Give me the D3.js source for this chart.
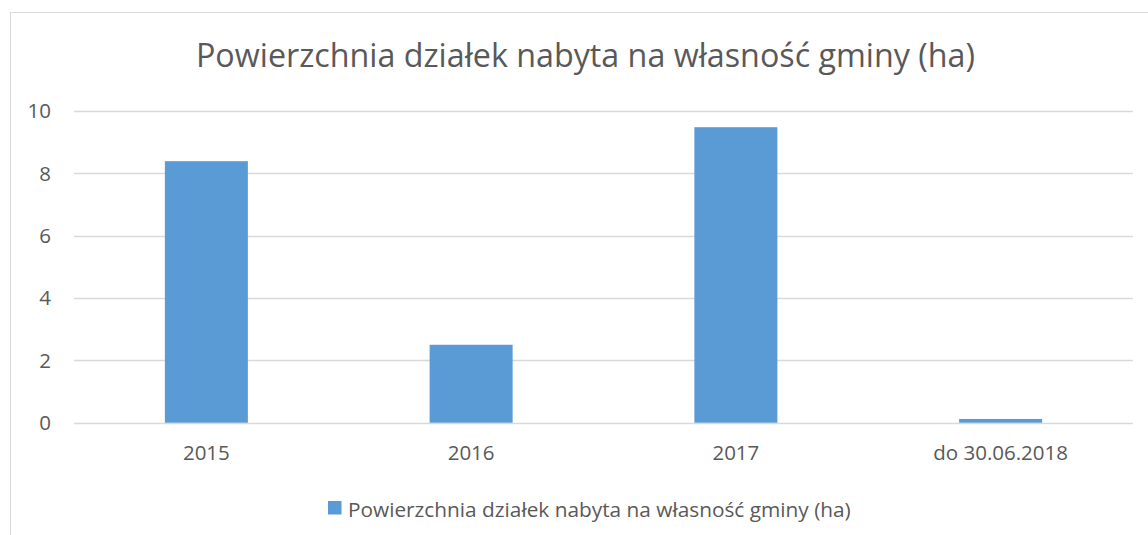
<!DOCTYPE html>
<html>
<head>
<meta charset="utf-8">
<script src="https://cdn.jsdelivr.net/npm/d3@7"></script>
<style>
  html, body { margin: 0; padding: 0; background: #ffffff; }
  svg { display: block; }
  text { font-family: "Open Sans", "Noto Sans", sans-serif; fill: #595959; }
</style>
</head>
<body>
<svg id="chart" width="1148" height="535"></svg>
<script>
const categories = ["2015", "2016", "2017", "do 30.06.2018"];
const values = [8.39, 2.5, 9.48, 0.12];
const yTicks = [0, 2, 4, 6, 8, 10];
const seriesName = "Powierzchnia działek nabyta na własność gminy (ha)";
const chartTitle = "Powierzchnia działek nabyta na własność gminy (ha)";

const svg = d3.select("#chart");
const W = 1148, H = 535;
const plot = { left: 74, right: 1133, top: 111, bottom: 422.7 };
const barColor = "#5B9BD5";
const gridColor = "#D9D9D9";

function fitText(sel, targetWidth) {
  const node = sel.node();
  const fs = parseFloat(sel.attr("font-size"));
  const w = node.getComputedTextLength();
  if (w > 0) sel.attr("font-size", (fs * targetWidth / w).toFixed(2));
  return sel;
}

// outer chart border
svg.append("rect")
  .attr("x", 10.5).attr("y", 12.5)
  .attr("width", 1300).attr("height", 700)
  .attr("fill", "#ffffff")
  .attr("stroke", gridColor).attr("stroke-width", 1);

const x = d3.scaleBand()
  .domain(categories)
  .range([plot.left, plot.right])
  .paddingInner(0.6865)
  .paddingOuter(0.6865 / 2);

const y = d3.scaleLinear()
  .domain([0, 10])
  .range([plot.bottom, plot.top]);

// gridlines
svg.append("g").selectAll("line")
  .data(yTicks)
  .join("line")
  .attr("x1", plot.left).attr("x2", plot.right)
  .attr("y1", d => Math.round(y(d)) + 0.5)
  .attr("y2", d => Math.round(y(d)) + 0.5)
  .attr("stroke", gridColor).attr("stroke-width", 1.3);

// y tick labels
svg.append("g").selectAll("text")
  .data(yTicks)
  .join("text")
  .attr("x", 51)
  .attr("y", d => y(d))
  .attr("dy", "0.36em")
  .attr("text-anchor", "end")
  .attr("font-size", 20.5)
  .text(d => d3.format("d")(d));

// bars
svg.append("g").selectAll("rect")
  .data(values)
  .join("rect")
  .attr("x", (d, i) => x(categories[i]))
  .attr("width", x.bandwidth())
  .attr("y", d => y(d))
  .attr("height", d => y(0) - y(d))
  .attr("fill", barColor);

// x labels
svg.append("g").selectAll("text")
  .data(categories)
  .join("text")
  .attr("x", d => x(d) + x.bandwidth() / 2)
  .attr("y", 460)
  .attr("text-anchor", "middle")
  .attr("font-size", 20.5)
  .text(d => d);

// title
const title = svg.append("text")
  .attr("x", 585.5)
  .attr("y", 67.3)
  .attr("text-anchor", "middle")
  .attr("font-size", 33)
  .text(chartTitle);
fitText(title, 779);

// legend
svg.append("rect")
  .attr("x", 328).attr("y", 501)
  .attr("width", 13.5).attr("height", 13.5)
  .attr("fill", barColor);
const leg = svg.append("text")
  .attr("x", 348)
  .attr("y", 516.5)
  .attr("font-size", 19)
  .text(seriesName);
fitText(leg, 503);
</script>
</body>
</html>
